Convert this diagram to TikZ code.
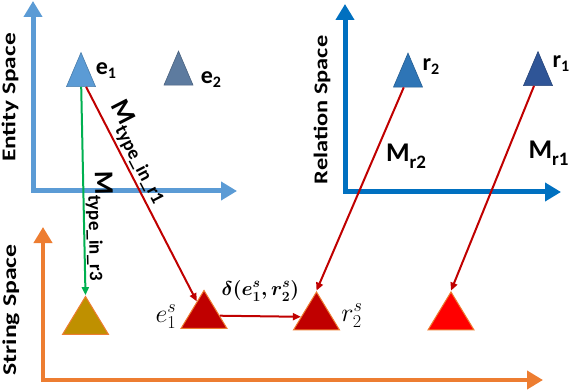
\RequirePackage{fix-cm}
\documentclass[tikz,border=0pt]{standalone}
\usepackage{amsmath}
\usepackage{graphicx}
\usepackage{fontspec}
\setmainfont{Carlito}
\usepackage{tikz}
\usetikzlibrary{arrows.meta,shapes.geometric}
\definecolor{entblue}{HTML}{5B9BD5}
\definecolor{relblue}{HTML}{0070C0}
\definecolor{strorange}{HTML}{ED7D31}
\definecolor{grayblue}{HTML}{5D7B9F}
\definecolor{midblue}{HTML}{2E75B6}
\definecolor{darkblue}{HTML}{2F5597}
\definecolor{gold}{HTML}{BF9000}
\definecolor{darkred}{HTML}{C00000}
\definecolor{brightred}{HTML}{FF0000}
\definecolor{mapgreen}{HTML}{00B050}
\newcommand{\lbl}[2]{#1\raisebox{-4pt}{\fontsize{16}{16}\selectfont #2}}
\newcommand{\msub}[1]{M\raisebox{-7pt}{\fontsize{19}{19}\selectfont #1}}
\tikzset{
  axisline/.style={line width=5pt,
    {Triangle[width=18pt,length=16pt]}-{Triangle[width=18pt,length=16pt]}},
  spacelabel/.style={rotate=90, inner sep=0pt,
    font=\fontsize{19.5}{20}\selectfont\bfseries},
  tri/.style={isosceles triangle, shape border rotate=90,
    isosceles triangle stretches, inner sep=0pt,
    minimum width=29pt, minimum height=34pt, line width=0.6pt},
  bigtri/.style={tri, minimum width=46pt, minimum height=38pt,
    draw=strorange, line width=1pt},
  ptlabel/.style={inner sep=0pt, font=\fontsize{24}{24}\selectfont\bfseries},
  mlabel/.style={inner sep=0pt, text=black, font=\fontsize{27}{27}\selectfont\bfseries},
  mathlabel/.style={inner sep=0pt, text=black, font=\fontsize{26}{26}\selectfont},
  maparrow/.style={-{Triangle[length=8pt,width=7pt]}, line width=2pt, color=darkred},
}
\begin{document}
\begin{tikzpicture}[x=1pt,y=-1pt]
  \useasboundingbox (0,0) rectangle (578,390);

  \coordinate (eo) at (33,191);
  \coordinate (ey) at (33,1);
  \coordinate (ex) at (237,191);
  \coordinate (ro) at (345,192);
  \coordinate (ry) at (345,4);
  \coordinate (rx) at (561,192);
  \coordinate (so) at (43,380);
  \coordinate (sy) at (43,227);
  \coordinate (sx) at (543,380);
  \draw[axisline, entblue] (ey) -- (eo) -- (ex);
  \draw[axisline, relblue] (ry) -- (ro) -- (rx);
  \draw[axisline, strorange, line width=4.5pt] (sy) -- (so) -- (sx);

  \node[spacelabel] (entlbl) at (10,97.5) {\scalebox{1.3}[1]{Entity Space}};
  \node[spacelabel] (rellbl) at (322,110) {\scalebox{1.25}[1]{Relation Space}};
  \node[spacelabel] (strlbl) at (11,310) {\scalebox{1.32}[1]{String Space}};

  \node[tri, fill=entblue, draw=entblue!80!black] (e1) at (81,77) {};
  \node[tri, fill=grayblue, draw=grayblue!80!black] (e2) at (178.5,75.5) {};
  \node[tri, fill=midblue, draw=midblue!80!black] (r2) at (408,77.5) {};
  \node[tri, fill=darkblue, draw=darkblue!80!black] (r1) at (538,76) {};
  \node[bigtri, fill=gold] (gold) at (85.5,321.5) {};
  \node[bigtri, fill=darkred] (e1s) at (204,315.5) {};
  \node[bigtri, fill=darkred] (r2s) at (316.5,317) {};
  \node[bigtri, fill=brightred] (red) at (451,317) {};

  \node[ptlabel] (e1lbl) at (106,71) {\lbl{e}{1}};
  \node[ptlabel] (e2lbl) at (211,80) {\lbl{e}{2}};
  \node[ptlabel] (r2lbl) at (431,67) {\lbl{r}{2}};
  \node[ptlabel] (r1lbl) at (561,64) {\lbl{r}{1}};
  \node[mathlabel] (e1slbl) at (166,317) {$e_1^s$};
  \node[mathlabel] (r2slbl) at (352,316) {$r_2^s$};

  \draw[maparrow, color=mapgreen] (e1) -- node[mlabel, pos=.67, sloped, above=1pt] (m3) {\msub{type\_in\_r3}} (gold.apex);
  \draw[maparrow] (e1) -- node[mlabel, pos=.34, sloped, above=2pt] (m1) {\msub{type\_in\_r1}} (e1s);
  \draw[maparrow] (r2) -- node[mlabel, pos=.34, right=11pt] (mr2) {\msub{r2}} (r2s.apex);
  \draw[maparrow] (r1) -- node[mlabel, pos=.33, right=21pt] (mr1) {\msub{r1}} (red.apex);
  \draw[maparrow] (e1s) -- node[above=14pt, inner sep=0pt, text=black, font=\fontsize{20}{20}\selectfont] (dlbl) {$\boldsymbol{\delta(e_1^s,r_2^s)}$} (r2s);
\end{tikzpicture}
\end{document}
